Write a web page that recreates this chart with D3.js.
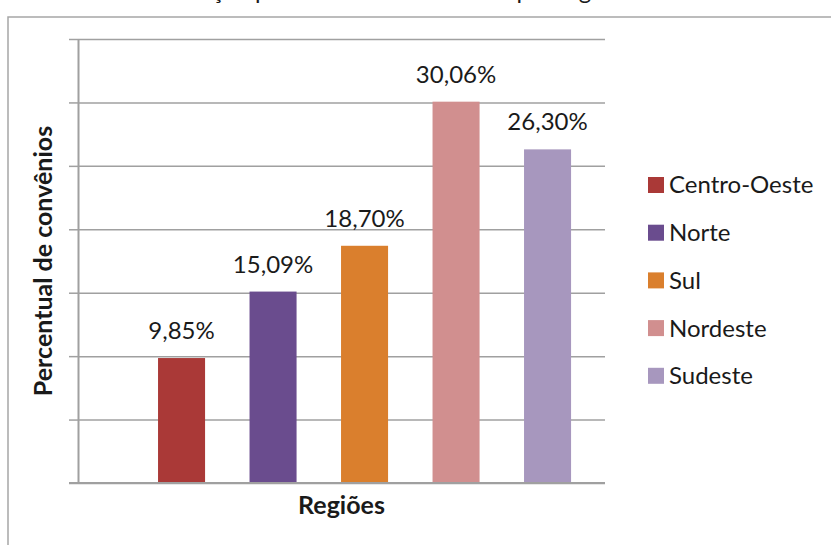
<!DOCTYPE html>
<html>
<head>
<meta charset="utf-8">
<script src="https://cdn.jsdelivr.net/npm/d3@7"></script>
<style>
  body { margin: 0; background: #fff; }
  svg { display: block; font-family: Lato, "Open Sans", sans-serif; }
</style>
</head>
<body>
<div id="chart"></div>
<script>
var regions = ["Centro-Oeste", "Norte", "Sul", "Nordeste", "Sudeste"];
var values = [9.85, 15.09, 18.70, 30.06, 26.30];
var labels = ["9,85%", "15,09%", "18,70%", "30,06%", "26,30%"];
var colors = ["#AA3937", "#6A4C8E", "#DA7F2D", "#D18F8F", "#A797BE"];
var yTicks = [0, 5, 10, 15, 20, 25, 30, 35];

var width = 831, height = 545;

var plot = {left: 78, right: 605, top: 39, bottom: 483};

var svg = d3.select("#chart").append("svg")
    .attr("width", width)
    .attr("height", height);

// chart frame (continues past the right/bottom edge)
svg.append("rect")
    .attr("x", 8).attr("y", 17)
    .attr("width", 900).attr("height", 600)
    .style("fill", "none")
    .style("stroke", "#A6A6A6")
    .style("stroke-width", 1.5);

// title, cut off at the top of the picture as in the source
svg.append("text")
    .attr("x", 122).attr("y", -1)
    .style("font-size", "24px")
    .style("fill", "#1a1a1a")
    .text("Distribuição percentual de convênios por região");

var y = d3.scaleLinear()
    .domain([0, 35])
    .range([plot.bottom, plot.top]);

var x = d3.scaleBand()
    .domain(regions)
    .range([135.8, 593.3])
    .paddingInner(0.486)
    .paddingOuter(0.243);

//gridlines
var grid = svg.append("g")
    .attr("transform", "translate(" + plot.left + ",0)")
    .call(d3.axisLeft(y).tickValues(yTicks).tickSize(-(plot.right - plot.left)).tickFormat(""));
grid.select(".domain").remove();
grid.selectAll("line").style("stroke", "#A0A0A0").style("stroke-width", 1.5);

//y axis with small ticks, no labels
var gy = svg.append("g")
    .attr("transform", "translate(" + plot.left + ",0)")
    .call(d3.axisLeft(y).tickValues(yTicks).tickSize(9).tickSizeOuter(0).tickFormat(""));
gy.selectAll("line").style("stroke", "#A0A0A0").style("stroke-width", 1.5);
gy.select(".domain").style("stroke", "#A0A0A0").style("stroke-width", 2);

var bars = svg.selectAll(".bar")
    .data(regions)
    .enter()
    .append("g");

bars.append("rect")
    .attr("class", "bar")
    .attr("x", function (d) { return x(d); })
    .attr("width", x.bandwidth())
    .attr("y", function (d, i) { return y(values[i]); })
    .attr("height", function (d, i) { return y(0) - y(values[i]); })
    .style("fill", function (d, i) { return colors[i]; });

//value labels above bars
bars.append("text")
    .attr("x", function (d) { return x(d) + x.bandwidth() / 2; })
    .attr("y", function (d, i) { return y(values[i]) - 19; })
    .attr("text-anchor", "middle")
    .style("font-size", "24px")
    .style("fill", "#1a1a1a")
    .text(function (d, i) { return labels[i]; });

//bottom axis line
svg.append("line")
    .attr("x1", plot.left - 9).attr("x2", plot.right)
    .attr("y1", y(0)).attr("y2", y(0))
    .style("stroke", "#A0A0A0")
    .style("stroke-width", 2);

//axis titles
svg.append("text")
    .attr("x", (plot.left + plot.right) / 2)
    .attr("y", 514)
    .attr("text-anchor", "middle")
    .style("font-size", "25px")
    .style("font-weight", "bold")
    .style("fill", "#1a1a1a")
    .text("Regiões");

svg.append("text")
    .attr("transform", "translate(52," + 261 + ") rotate(-90)")
    .attr("text-anchor", "middle")
    .style("font-size", "25px")
    .style("font-weight", "bold")
    .style("fill", "#1a1a1a")
    .text("Percentual de convênios");

//legend
var legend = svg.selectAll(".legend")
    .data(regions)
    .enter()
    .append("g")
    .attr("transform", function (d, i) { return "translate(648," + (185 + i * 47.7) + ")"; });

legend.append("rect")
    .attr("x", 0).attr("y", -8)
    .attr("width", 16).attr("height", 16)
    .style("fill", function (d, i) { return colors[i]; });

legend.append("text")
    .attr("x", 21).attr("y", 0)
    .attr("dy", "0.35em")
    .style("font-size", "24px")
    .style("fill", "#1a1a1a")
    .text(function (d) { return d; });
</script>
</body>
</html>
